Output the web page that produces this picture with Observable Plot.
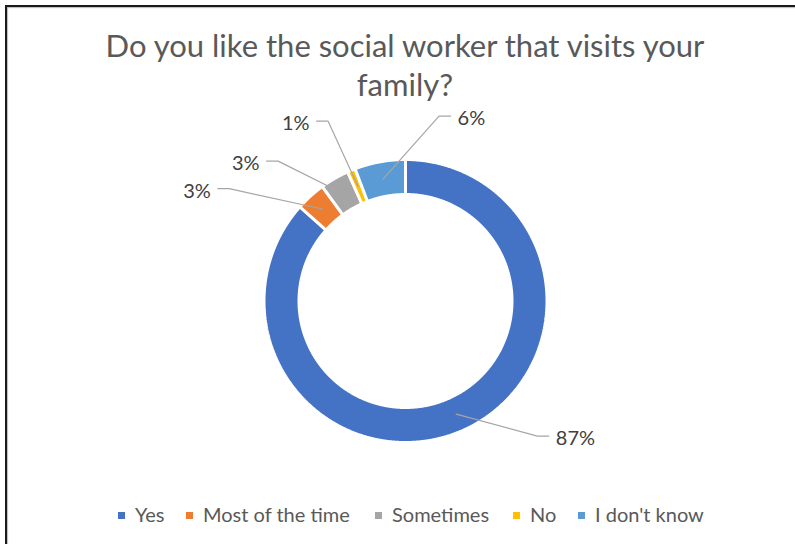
<!DOCTYPE html>
<html>
<head>
<meta charset="utf-8">
<script src="https://cdn.jsdelivr.net/npm/d3@7"></script>
<script src="https://cdn.jsdelivr.net/npm/@observablehq/plot@0.6"></script>
<style>
  html, body { margin: 0; padding: 0; background: #fff; }
  #wrap { position: relative; width: 795px; height: 544px; overflow: hidden; font-family: Lato, "Open Sans", sans-serif; }
  #frame { position: absolute; left: 5px; top: 5px; width: 820px; height: 600px; border: 2px solid #1a1a1a; box-sizing: border-box; box-shadow: 1px 1px 1px #bbb inset; }
  #title { position: absolute; left: 5px; width: 800px; top: 26px; text-align: center; font-size: 31px; line-height: 39px; color: #595959; }
  #chart { position: absolute; left: 0; top: 100px; }
  #legend { position: absolute; top: 502px; left: 0; width: 795px; height: 24px; font-size: 20px; color: #595959; }
  .item { position: absolute; top: 0; line-height: 24px; white-space: nowrap; }
  .sw { display: inline-block; width: 7px; height: 7px; margin-right: 10px; vertical-align: middle; position: relative; top: -1px; }
</style>
</head>
<body>
<div id="wrap">
  <div id="frame"></div>
  <div id="title">Do you like the social worker that visits your<br>family?</div>
  <div id="chart"></div>
  <div id="legend"></div>
</div>
<script>
// ---- data ----
const categories = ["Yes", "Most of the time", "Sometimes", "No", "I don't know"];
const values = [86.6, 3.4, 3.3, 0.9, 5.8];
const valueLabels = ["87%", "3%", "3%", "1%", "6%"];
const colors = ["#4472C4", "#ED7D31", "#A5A5A5", "#FFC000", "#5B9BD5"];

// ---- layout (label placement in polar terms around the ring centre) ----
const outerR = 141.5, innerR = 106.5, anchorR = 124;
const labelPlacement = [
  {angle: 133.3, r: 197, side: "right"},
  {angle: 300.9, r: 218.7, side: "left"},
  {angle: 315.2, r: 197.1, side: "left"},
  {angle: 333.7, r: 200.6, side: "left"},
  {angle: 13.7, r: 190.2, side: "right"}
];

const W = 795, H = 390, cx = 405, cy = 200.5;
const rad = Math.PI / 180;
const pol = (a, r) => ({x: r * Math.sin(a), y: r * Math.cos(a)});

const arcs = d3.pie().sort(null).startAngle(0).endAngle(2 * Math.PI)(values);

// slice polygons
const slicePts = [];
arcs.forEach((a, i) => {
  const n = Math.max(2, Math.ceil((a.endAngle - a.startAngle) / 0.005));
  const outer = d3.range(n + 1).map(k => a.startAngle + (a.endAngle - a.startAngle) * k / n);
  const ring = [...outer.map(t => pol(t, outerR)), ...outer.slice().reverse().map(t => pol(t, innerR))];
  ring.push(ring[0]);
  ring.forEach(p => slicePts.push({...p, cat: categories[i]}));
});

// leader lines and labels
const leaderPts = [];
const labelRows = [];
arcs.forEach((a, i) => {
  const mid = (a.startAngle + a.endAngle) / 2;
  const anchor = pol(mid, anchorR);
  const lp = labelPlacement[i];
  const start = pol(lp.angle * rad, lp.r);
  const dir = lp.side === "right" ? -1 : 1;
  const elbow = {x: start.x + dir * 11.5, y: start.y};
  [start, elbow, anchor].forEach(p => leaderPts.push({...p, id: i}));
  labelRows.push({...start, text: valueLabels[i], side: lp.side});
});

const chart = Plot.plot({
  width: W, height: H, margin: 0,
  x: {domain: [-cx, W - cx], axis: null},
  y: {domain: [-(H - cy), cy], axis: null},
  color: {domain: categories, range: colors},
  style: {background: "transparent", overflow: "visible"},
  marks: [
    Plot.line(slicePts, {x: "x", y: "y", z: "cat", fill: "cat", stroke: "white", strokeWidth: 3, strokeLinejoin: "miter", curve: "linear"}),
    Plot.line(leaderPts, {x: "x", y: "y", z: "id", stroke: "#A6A6A6", strokeWidth: 1.2, curve: "linear"}),
    Plot.text(labelRows.filter(d => d.side === "right"), {x: "x", y: "y", text: "text", textAnchor: "start", dx: 7, dy: 2.5, fontSize: 20, fill: "#404040", fontFamily: "Lato"}),
    Plot.text(labelRows.filter(d => d.side === "left"), {x: "x", y: "y", text: "text", textAnchor: "end", dx: -7, dy: 2.5, fontSize: 20, fill: "#404040", fontFamily: "Lato"})
  ]
});
document.getElementById("chart").appendChild(chart);

// legend
const legendX = [118, 186, 375, 513, 578];
const legend = document.getElementById("legend");
categories.forEach((c, i) => {
  const it = document.createElement("div");
  it.className = "item";
  it.style.left = legendX[i] + "px";
  const sw = document.createElement("span");
  sw.className = "sw";
  sw.style.background = colors[i];
  it.appendChild(sw);
  it.appendChild(document.createTextNode(c));
  legend.appendChild(it);
});
</script>
</body>
</html>
